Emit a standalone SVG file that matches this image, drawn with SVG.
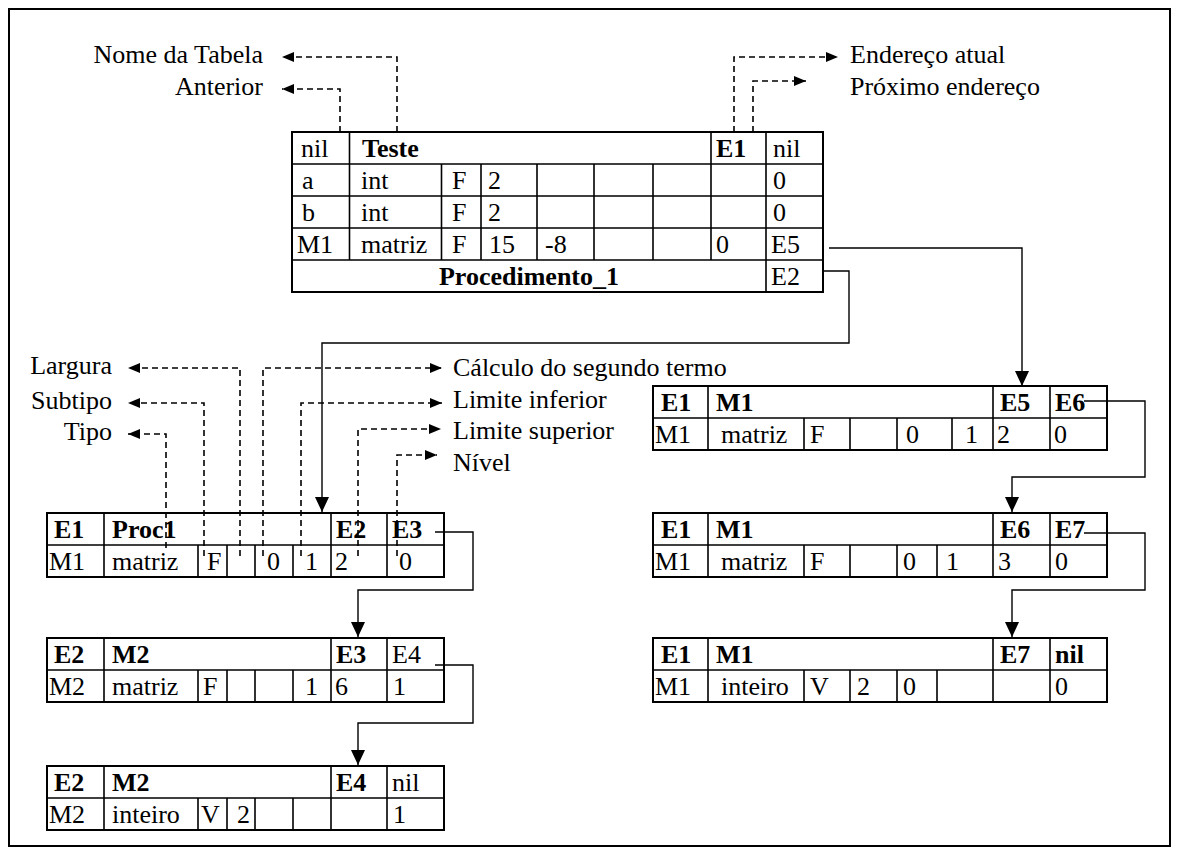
<svg xmlns="http://www.w3.org/2000/svg" width="1180" height="855" viewBox="0 0 1180 855">
<style>
.t{font-family:"Liberation Serif","Tinos","Times New Roman","DejaVu Serif",serif;font-size:26px;fill:#000}
.b{font-weight:bold}
.box{fill:#fff;stroke:#000;stroke-width:2}
.ln{stroke:#000;stroke-width:1.6;fill:none}
.dash{fill:none;stroke:#000;stroke-width:1.6;stroke-dasharray:6 4}
.solid{fill:none;stroke:#000;stroke-width:1.4}
</style>
<defs>
<marker id="big" markerUnits="userSpaceOnUse" markerWidth="16" markerHeight="16" refX="15" refY="7" orient="auto">
<path d="M0,0 L15,7 L0,14 z" fill="#000"/>
</marker>
<marker id="small" markerUnits="userSpaceOnUse" markerWidth="13" markerHeight="12" refX="12" refY="5" orient="auto">
<path d="M0,0 L12,5 L0,10 z" fill="#000"/>
</marker>
</defs>
<rect x="9" y="9" width="1161" height="837" fill="#fff" stroke="#000" stroke-width="2"/>

<g id="labels-top" font-family="Liberation Serif, serif">
<text class="t" x="263" y="63" text-anchor="end">Nome da Tabela</text>
<text class="t" x="263" y="95" text-anchor="end">Anterior</text>
<text class="t" x="850" y="63">Endereço atual</text>
<text class="t" x="850" y="95">Próximo endereço</text>
</g>

<g id="labels-left">
<text class="t" x="112" y="374" text-anchor="end">Largura</text>
<text class="t" x="112" y="409" text-anchor="end">Subtipo</text>
<text class="t" x="112" y="440" text-anchor="end">Tipo</text>
<text class="t" x="453" y="376">Cálculo do segundo termo</text>
<text class="t" x="453" y="408">Limite inferior</text>
<text class="t" x="453" y="439">Limite superior</text>
<text class="t" x="453" y="471">Nível</text>
</g>

<g id="tbl-teste">
<rect class="box" x="292" y="132" width="531" height="160"/>
<path class="ln" d="M292,164H823M292,196H823M292,228H823M292,260H823M349.5,132V260M441.5,164V260M481,164V260M537,164V260M594,164V260M653,164V260M711,132V260M766,132V292"/>
<text class="t" x="301" y="157">nil</text>
<text class="t b" x="362" y="157">Teste</text>
<text class="t b" x="716" y="157">E1</text>
<text class="t" x="773" y="157">nil</text>
<text class="t" x="302" y="189">a</text>
<text class="t" x="361" y="189">int</text>
<text class="t" x="452" y="189">F</text>
<text class="t" x="488" y="189">2</text>
<text class="t" x="773" y="189">0</text>
<text class="t" x="302" y="221">b</text>
<text class="t" x="361" y="221">int</text>
<text class="t" x="452" y="221">F</text>
<text class="t" x="488" y="221">2</text>
<text class="t" x="773" y="221">0</text>
<text class="t" x="297" y="253">M1</text>
<text class="t" x="361" y="253">matriz</text>
<text class="t" x="452" y="253">F</text>
<text class="t" x="489" y="253">15</text>
<text class="t" x="545" y="253">-8</text>
<text class="t" x="716" y="253">0</text>
<text class="t" x="771" y="253">E5</text>
<text class="t b" x="529" y="285" text-anchor="middle">Procedimento_1</text>
<text class="t" x="771" y="285">E2</text>
</g>

<g id="tbl-proc1-a">
<rect class="box" x="47" y="513" width="397" height="64"/>
<path class="ln" d="M47,545H444M104,513V577M331,513V577M387,513V577M198,545V577M227,545V577M255,545V577M293,545V577"/>
<text class="t b" x="54" y="538">E1</text>
<text class="t b" x="112" y="538">Proc1</text>
<text class="t b" x="336" y="538">E2</text>
<text class="t b" x="392" y="538">E3</text>
<text class="t" x="49" y="570">M1</text>
<text class="t" x="112" y="570">matriz</text>
<text class="t" x="207" y="570">F</text>
<text class="t" x="267" y="570">0</text>
<text class="t" x="305" y="570">1</text>
<text class="t" x="335" y="570">2</text>
<text class="t" x="399" y="570">0</text>
</g>

<g id="tbl-proc1-b">
<rect class="box" x="47" y="638" width="397" height="64"/>
<path class="ln" d="M47,670H444M104,638V702M331,638V702M387,638V702M198,670V702M227,670V702M255,670V702M293,670V702"/>
<text class="t b" x="54" y="663">E2</text>
<text class="t b" x="112" y="663">M2</text>
<text class="t b" x="336" y="663">E3</text>
<text class="t" x="392" y="663">E4</text>
<text class="t" x="49" y="695">M2</text>
<text class="t" x="112" y="695">matriz</text>
<text class="t" x="203" y="695">F</text>
<text class="t" x="305" y="695">1</text>
<text class="t" x="335" y="695">6</text>
<text class="t" x="393" y="695">1</text>
</g>

<g id="tbl-proc1-c">
<rect class="box" x="47" y="766" width="397" height="64"/>
<path class="ln" d="M47,798H444M104,766V830M331,766V830M387,766V830M198,798V830M227,798V830M255,798V830M293,798V830"/>
<text class="t b" x="54" y="791">E2</text>
<text class="t b" x="112" y="791">M2</text>
<text class="t b" x="336" y="791">E4</text>
<text class="t" x="392" y="791">nil</text>
<text class="t" x="49" y="823">M2</text>
<text class="t" x="112" y="823">inteiro</text>
<text class="t" x="201" y="823">V</text>
<text class="t" x="237" y="823">2</text>
<text class="t" x="393" y="823">1</text>
</g>

<g id="tbl-m1-a">
<rect class="box" x="653" y="386" width="454" height="64"/>
<path class="ln" d="M653,418H1107M708,386V450M993,386V450M1050,386V450M804,418V450M850,418V450M897,418V450M952,418V450"/>
<text class="t b" x="661" y="411">E1</text>
<text class="t b" x="716" y="411">M1</text>
<text class="t b" x="1000" y="411">E5</text>
<text class="t b" x="1055" y="411">E6</text>
<text class="t" x="655" y="443">M1</text>
<text class="t" x="721" y="443">matriz</text>
<text class="t" x="810" y="443">F</text>
<text class="t" x="906" y="443">0</text>
<text class="t" x="965" y="443">1</text>
<text class="t" x="997" y="443">2</text>
<text class="t" x="1054" y="443">0</text>
</g>

<g id="tbl-m1-b">
<rect class="box" x="653" y="513" width="454" height="64"/>
<path class="ln" d="M653,545H1107M708,513V577M993,513V577M1050,513V577M804,545V577M850,545V577M897,545V577M937,545V577"/>
<text class="t b" x="661" y="538">E1</text>
<text class="t b" x="716" y="538">M1</text>
<text class="t b" x="1000" y="538">E6</text>
<text class="t b" x="1055" y="538">E7</text>
<text class="t" x="655" y="570">M1</text>
<text class="t" x="721" y="570">matriz</text>
<text class="t" x="810" y="570">F</text>
<text class="t" x="903" y="570">0</text>
<text class="t" x="946" y="570">1</text>
<text class="t" x="998" y="570">3</text>
<text class="t" x="1055" y="570">0</text>
</g>

<g id="tbl-m1-c">
<rect class="box" x="653" y="638" width="454" height="64"/>
<path class="ln" d="M653,670H1107M708,638V702M993,638V702M1050,638V702M804,670V702M850,670V702M897,670V702M937,670V702"/>
<text class="t b" x="661" y="663">E1</text>
<text class="t b" x="716" y="663">M1</text>
<text class="t b" x="1000" y="663">E7</text>
<text class="t b" x="1055" y="663">nil</text>
<text class="t" x="655" y="695">M1</text>
<text class="t" x="721" y="695">inteiro</text>
<text class="t" x="810" y="695">V</text>
<text class="t" x="857" y="695">2</text>
<text class="t" x="903" y="695">0</text>
<text class="t" x="1055" y="695">0</text>
</g>

<g id="connectors">
<path class="dash" d="M397,132V57H282" marker-end="url(#small)"/>
<path class="dash" d="M340,132V89H282" marker-end="url(#small)"/>
<path class="dash" d="M734,132V57H838" marker-end="url(#small)"/>
<path class="dash" d="M753,132V81H806" marker-end="url(#small)"/>
<path class="dash" d="M240,556V368H128" marker-end="url(#small)"/>
<path class="dash" d="M204,556V403H128" marker-end="url(#small)"/>
<path class="dash" d="M166,548V434H128" marker-end="url(#small)"/>
<path class="dash" d="M263,556V368H442" marker-end="url(#small)"/>
<path class="dash" d="M301,556V403H442" marker-end="url(#small)"/>
<path class="dash" d="M358,556V429H441" marker-end="url(#small)"/>
<path class="dash" d="M397,556V455H437" marker-end="url(#small)"/>
<path class="solid" d="M829,248H1022V386" marker-end="url(#big)"/>
<path class="solid" d="M823,271H849V343H322V512" marker-end="url(#big)"/>
<path class="solid" d="M435,532H473V590H358V637" marker-end="url(#big)"/>
<path class="solid" d="M435,665H473V723H358V765" marker-end="url(#big)"/>
<path class="solid" d="M1084,401H1145V477H1012V512" marker-end="url(#big)"/>
<path class="solid" d="M1084,533H1145V590H1012V637" marker-end="url(#big)"/>
</g>
</svg>
